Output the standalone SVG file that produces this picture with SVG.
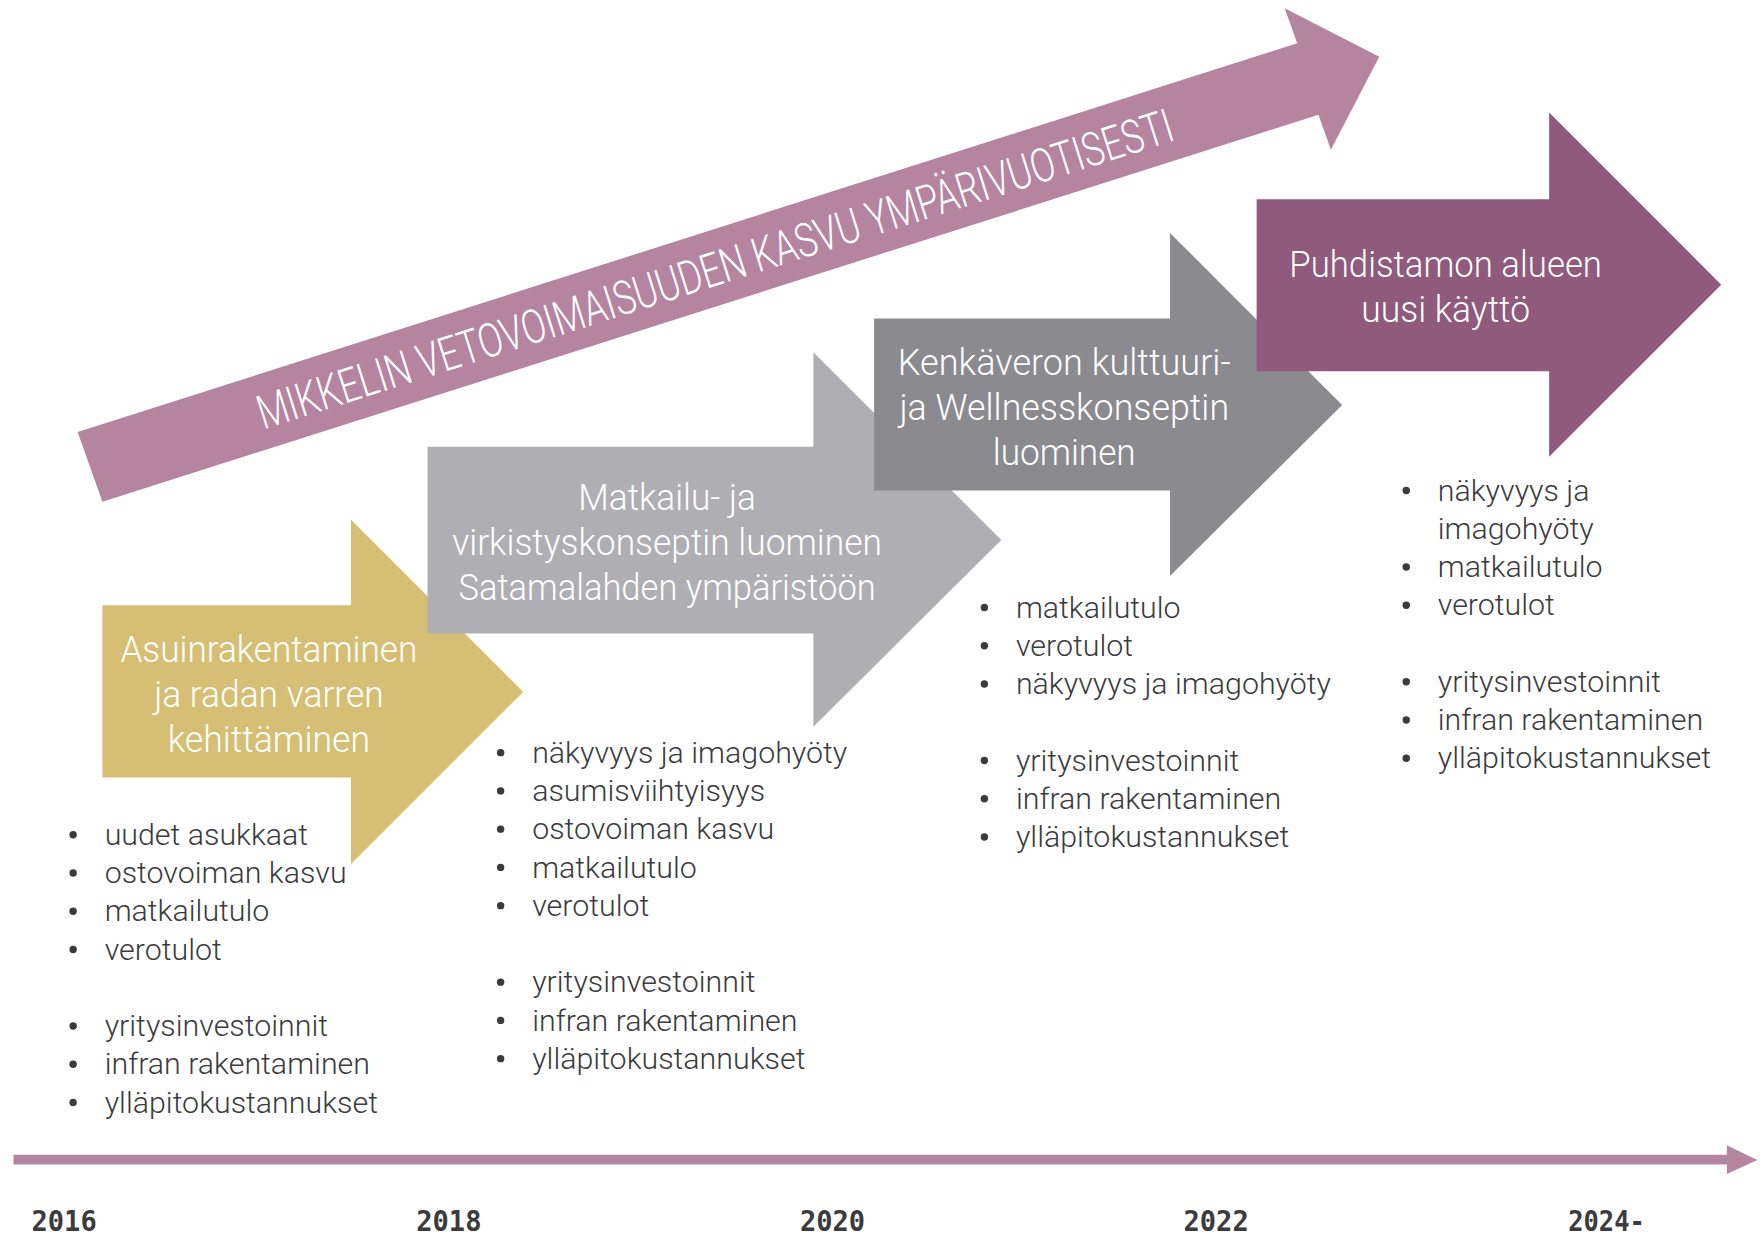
<svg xmlns="http://www.w3.org/2000/svg" width="1764" height="1236" viewBox="0 0 1764 1236">
<style>
.lbl{font-family:Roboto,"Liberation Sans",sans-serif;font-weight:300;font-size:32px;fill:#ffffff;text-anchor:middle}
.ban{font-family:Roboto,"Liberation Sans",sans-serif;font-weight:300;font-size:42px;fill:#ffffff;text-anchor:middle}
.bl{font-family:Roboto,"Liberation Sans",sans-serif;font-weight:300;font-size:27px;fill:#3b3b3d}
.yr{font-family:"DejaVu Sans Mono","Liberation Mono",monospace;font-weight:bold;font-size:25px;fill:#3b3b3d}
.dot{fill:#3b3b3d}
</style>
<defs><circle id="b" r="3.3" class="dot"/></defs>
<rect width="1764" height="1236" fill="#ffffff"/>
<g transform="scale(1.125)">
<g id="banner">
<polygon points="69,384 1153,38.5 1142,7.4 1226,50.4 1183,133 1172,102 91,446" fill="#B5849F"/>
<text class="ban" x="640" y="253" transform="rotate(-17.6 640 253)" textLength="852" lengthAdjust="spacingAndGlyphs">MIKKELIN VETOVOIMAISUUDEN KASVU YMPÄRIVUOTISESTI</text>
</g>
<g id="step-2016">
<polygon points="91,538 312,538 312,462 465,615 312,768 312,691 91,691" fill="#D6BF74"/>
<text class="lbl" x="239" y="588" textLength="264" lengthAdjust="spacingAndGlyphs">Asuinrakentaminen</text>
<text class="lbl" x="239" y="628" textLength="204" lengthAdjust="spacingAndGlyphs">ja radan varren</text>
<text class="lbl" x="239" y="668" textLength="180" lengthAdjust="spacingAndGlyphs">kehittäminen</text>
</g>
<g id="step-2018">
<polygon points="380,397 723,397 723,313 890,480 723,646 723,563 380,563" fill="#AFAEB3"/>
<text class="lbl" x="593" y="453" textLength="158" lengthAdjust="spacingAndGlyphs">Matkailu- ja</text>
<text class="lbl" x="593" y="493" textLength="382" lengthAdjust="spacingAndGlyphs">virkistyskonseptin luominen</text>
<text class="lbl" x="593" y="533" textLength="371" lengthAdjust="spacingAndGlyphs">Satamalahden ympäristöön</text>
</g>
<g id="step-2020">
<polygon points="777,283 1040,283 1040,207 1193,360 1040,512 1040,436 777,436" fill="#8B8A8F"/>
<text class="lbl" x="946" y="333" textLength="296" lengthAdjust="spacingAndGlyphs">Kenkäveron kulttuuri-</text>
<text class="lbl" x="946" y="373" textLength="293" lengthAdjust="spacingAndGlyphs">ja Wellnesskonseptin</text>
<text class="lbl" x="946" y="413" textLength="127" lengthAdjust="spacingAndGlyphs">luominen</text>
</g>
<g id="step-2022">
<polygon points="1117,177 1377,177 1377,100 1530,253 1377,406 1377,330 1117,330" fill="#8F5A7B"/>
<text class="lbl" x="1285" y="246" textLength="278" lengthAdjust="spacingAndGlyphs">Puhdistamon alueen</text>
<text class="lbl" x="1285" y="286" textLength="150" lengthAdjust="spacingAndGlyphs">uusi käyttö</text>
</g>
<g id="list-2016">
<use href="#b" x="65" y="742"/><text class="bl" x="93" y="751">uudet asukkaat</text>
<use href="#b" x="65" y="776"/><text class="bl" x="93" y="785">ostovoiman kasvu</text>
<use href="#b" x="65" y="810"/><text class="bl" x="93" y="819">matkailutulo</text>
<use href="#b" x="65" y="844"/><text class="bl" x="93" y="853">verotulot</text>
<use href="#b" x="65" y="912"/><text class="bl" x="93" y="921">yritysinvestoinnit</text>
<use href="#b" x="65" y="946"/><text class="bl" x="93" y="955">infran rakentaminen</text>
<use href="#b" x="65" y="980"/><text class="bl" x="93" y="989">ylläpitokustannukset</text>
</g>
<g id="list-2018">
<use href="#b" x="445" y="669"/><text class="bl" x="473" y="678">näkyvyys ja imagohyöty</text>
<use href="#b" x="445" y="703"/><text class="bl" x="473" y="712">asumisviihtyisyys</text>
<use href="#b" x="445" y="737"/><text class="bl" x="473" y="746">ostovoiman kasvu</text>
<use href="#b" x="445" y="771"/><text class="bl" x="473" y="780">matkailutulo</text>
<use href="#b" x="445" y="805"/><text class="bl" x="473" y="814">verotulot</text>
<use href="#b" x="445" y="873"/><text class="bl" x="473" y="882">yritysinvestoinnit</text>
<use href="#b" x="445" y="907"/><text class="bl" x="473" y="916">infran rakentaminen</text>
<use href="#b" x="445" y="941"/><text class="bl" x="473" y="950">ylläpitokustannukset</text>
</g>
<g id="list-2020">
<use href="#b" x="875" y="540"/><text class="bl" x="903" y="549">matkailutulo</text>
<use href="#b" x="875" y="574"/><text class="bl" x="903" y="583">verotulot</text>
<use href="#b" x="875" y="608"/><text class="bl" x="903" y="617">näkyvyys ja imagohyöty</text>
<use href="#b" x="875" y="676"/><text class="bl" x="903" y="685">yritysinvestoinnit</text>
<use href="#b" x="875" y="710"/><text class="bl" x="903" y="719">infran rakentaminen</text>
<use href="#b" x="875" y="744"/><text class="bl" x="903" y="753">ylläpitokustannukset</text>
</g>
<g id="list-2022">
<use href="#b" x="1250" y="436"/><text class="bl" x="1278" y="445">näkyvyys ja</text>
<text class="bl" x="1278" y="479">imagohyöty</text>
<use href="#b" x="1250" y="504"/><text class="bl" x="1278" y="513">matkailutulo</text>
<use href="#b" x="1250" y="538"/><text class="bl" x="1278" y="547">verotulot</text>
<use href="#b" x="1250" y="606"/><text class="bl" x="1278" y="615">yritysinvestoinnit</text>
<use href="#b" x="1250" y="640"/><text class="bl" x="1278" y="649">infran rakentaminen</text>
<use href="#b" x="1250" y="674"/><text class="bl" x="1278" y="683">ylläpitokustannukset</text>
</g>
<g id="connectors">
<polygon points="12,1026.5 1535,1026.5 1535,1018 1562,1031 1535,1043.5 1535,1035 12,1035" fill="#B5849F"/>
</g>
<g id="years">
<text class="yr" x="28" y="1094" textLength="58" lengthAdjust="spacingAndGlyphs">2016</text>
<text class="yr" x="370" y="1094" textLength="58" lengthAdjust="spacingAndGlyphs">2018</text>
<text class="yr" x="711" y="1094" textLength="58" lengthAdjust="spacingAndGlyphs">2020</text>
<text class="yr" x="1052" y="1094" textLength="58" lengthAdjust="spacingAndGlyphs">2022</text>
<text class="yr" x="1394" y="1094" textLength="68" lengthAdjust="spacingAndGlyphs">2024-</text>
</g>
</g>
</svg>
